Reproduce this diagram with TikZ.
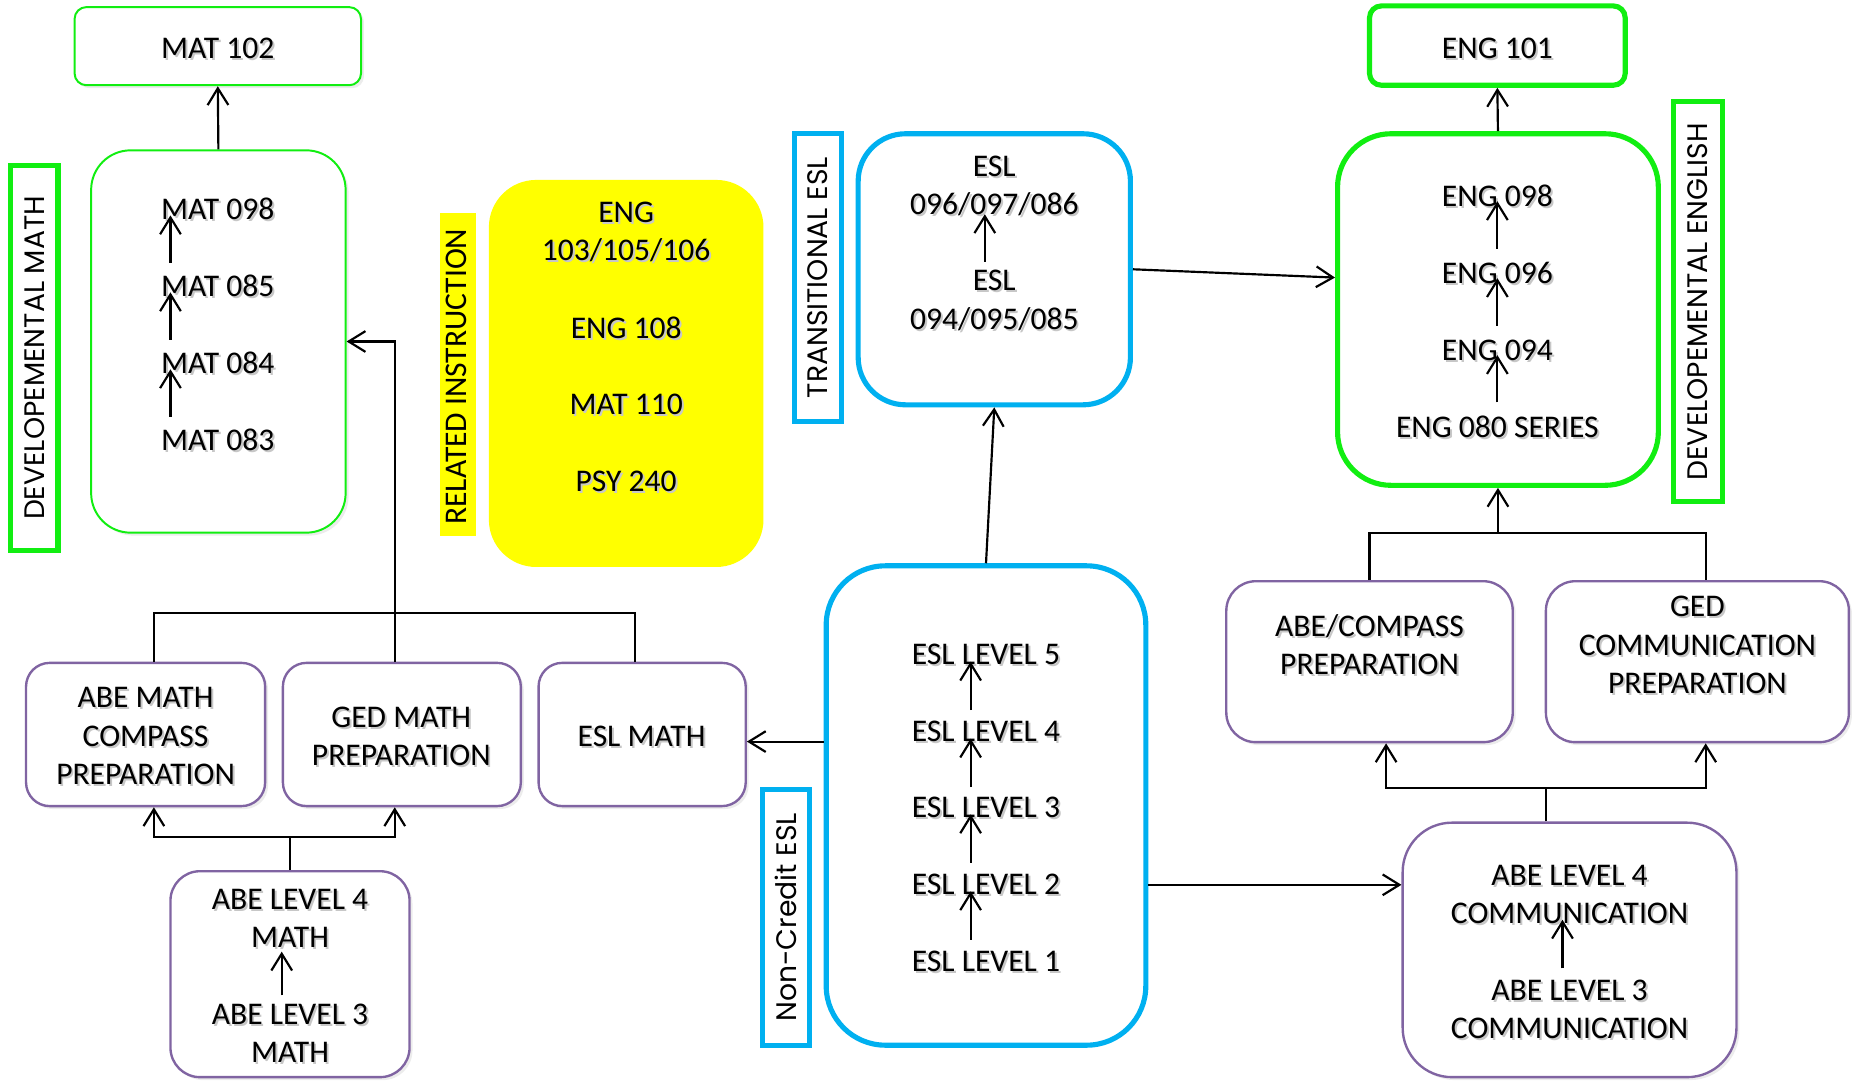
\documentclass[tikz,border=0pt]{standalone}
\usepackage{fontspec}
\setmainfont{Carlito}
\newfontfamily\labfont{Poppins}
\usetikzlibrary{arrows.meta,fit,calc,shadows}
\definecolor{gr}{HTML}{11EE11}
\definecolor{bl}{HTML}{00B0F0}
\definecolor{pu}{HTML}{8064A2}
\definecolor{ye}{HTML}{FFFF00}
\newcommand\sht[1]{\leavevmode\rlap{\kern1pt\raisebox{-1pt}{\color{black!22}#1}}#1}
\begin{document}
\begin{tikzpicture}[x=0.6pt,y=-0.6pt,
  arr/.style={line width=1.1pt,-{Straight Barb[length=8.5pt,width=10.5pt]}},
  ln/.style={line width=1.1pt},
  txt/.style={font=\fontsize{16}{19.4}\selectfont,align=center,inner sep=0pt,yshift=-1pt},
  lab/.style={font=\labfont\fontsize{14.3}{16}\selectfont,inner sep=0pt,rotate=90},
  soft/.style={drop shadow={opacity=0.15,shadow xshift=1.5pt,shadow yshift=-1.5pt}},
  gthin/.style={draw=gr,line width=1pt,fill=white,rounded corners=#1,inner sep=0pt,soft},
  gthick/.style={draw=gr,line width=2.6pt,fill=white,rounded corners=#1,inner sep=0pt},
  bthick/.style={draw=bl,line width=2.6pt,fill=white,rounded corners=#1,inner sep=0pt},
  pbox/.style={draw=pu,line width=1.2pt,fill=white,rounded corners=#1,inner sep=0pt,soft},
  glab/.style={draw=gr,line width=2.6pt,inner sep=0pt},
  blab/.style={draw=bl,line width=2.6pt,inner sep=0pt}]
\useasboundingbox (0,0) rectangle (1568,913);

% ---------- left: developmental math ----------
\node[gthin=6pt,fit={(63,6)(305,72)}] (mat102) {};
\node[txt] (t102) at (184,40) {\sht{MAT 102}};
\node[gthin=20pt,fit={(77,127)(292,450)}] (math) {};
\node[txt] (m098) at (184,176) {\sht{MAT 098}};
\node[txt] (m085) at (184,241) {\sht{MAT 085}};
\node[txt] (m084) at (184,306) {\sht{MAT 084}};
\node[txt] (m083) at (184,371) {\sht{MAT 083}};
\coordinate (ma1) at (144,222); \coordinate (mb1) at (144,182);
\coordinate (ma2) at (144,287); \coordinate (mb2) at (144,247);
\coordinate (ma3) at (144,352); \coordinate (mb3) at (144,312);
\draw[arr] (ma1) -- (mb1);
\draw[arr] (ma2) -- (mb2);
\draw[arr] (ma3) -- (mb3);
\draw[arr] (math.north) -- (mat102.south);
\node[glab,fit={(9,140)(49,465)}] (labmath) {};
\node[lab] (labmatht) at (labmath.center) {DEVELOPEMENTAL MATH};

% ---------- related instruction ----------
\node[fill=ye,inner sep=0pt,fit={(372,180)(402,453)}] (rel) {};
\node[txt,rotate=90,yshift=1pt] (relt) at (rel.center) {RELATED INSTRUCTION};
\node[fill=ye,rounded corners=24pt,inner sep=0pt,fit={(413,152)(645,479)}] (relbox) {};
\node[txt] (r1) at (529,195) {\sht{ENG}\\\sht{103/105/106}};
\node[txt] (r2) at (529,276) {\sht{ENG 108}};
\node[txt] (r3) at (529,341) {\sht{MAT 110}};
\node[txt] (r4) at (529,406) {\sht{PSY 240}};

% ---------- bottom left ----------
\node[pbox=12pt,fit={(22,560)(224,681)}] (abemc) {};
\node[txt] (abemct) at (123,621) {\sht{ABE MATH}\\\sht{COMPASS}\\\sht{PREPARATION}};
\node[pbox=12pt,fit={(239,560)(440,681)}] (gedm) {};
\node[txt] (gedmt) at (339,621) {\sht{GED MATH}\\\sht{PREPARATION}};
\node[pbox=12pt,fit={(455,560)(630,681)}] (eslm) {};
\node[txt] (eslmt) at (542,621) {\sht{ESL MATH}};
\node[pbox=15pt,fit={(144,736)(346,910)}] (abe4m) {};
\node[txt] (a4m) at (245,775) {\sht{ABE LEVEL 4}\\\sht{MATH}};
\node[txt] (a3m) at (245,872) {\sht{ABE LEVEL 3}\\\sht{MATH}};
\coordinate (aa1) at (238,841); \coordinate (ab1) at (238,804);
\draw[arr] (aa1) -- (ab1);

\draw[ln] ($(abemc.north)+(7,0)$) -- ++(0,-41) -| ($(eslm.north)+(-6,0)$);
\draw[arr] ($(gedm.north)+(-6,0)$) |- (math.east);
\draw[ln] (abe4m.north) -- ++(0,-28) coordinate (jm);
\draw[arr] (jm) -| ($(abemc.south)+(7,0)$);
\draw[arr] (jm) -| ($(gedm.south)+(-6,0)$);

% ---------- middle: ESL ----------
\node[blab,fit={(671,113)(711,356)}] (labtr) {};
\node[lab] (labtrt) at (labtr.center) {TRANSITIONAL ESL};
\node[bthick=24pt,fit={(725,113)(955,342)}] (trans) {};
\node[txt] (tr1) at (840,156) {\sht{ESL}\\\sht{096/097/086}};
\node[txt] (tr2) at (840,253) {\sht{ESL}\\\sht{094/095/085}};
\coordinate (ta1) at (832,221); \coordinate (tb1) at (832,181);
\draw[arr] (ta1) -- (tb1);

\node[blab,fit={(644,667)(684,883)}] (labnc) {};
\node[lab] (labnct) at (labnc.center) {Non-Credit ESL};
\node[bthick=30pt,fit={(698,478)(968,883)}] (nc) {};
\node[txt] (e5) at (833,552) {\sht{ESL LEVEL 5}};
\node[txt] (e4) at (833,617) {\sht{ESL LEVEL 4}};
\node[txt] (e3) at (833,681) {\sht{ESL LEVEL 3}};
\node[txt] (e2) at (833,746) {\sht{ESL LEVEL 2}};
\node[txt] (e1) at (833,811) {\sht{ESL LEVEL 1}};
\coordinate (ea1) at (820,600); \coordinate (eb1) at (820,559);
\coordinate (ea2) at (820,665); \coordinate (eb2) at (820,624);
\coordinate (ea3) at (820,729); \coordinate (eb3) at (820,688);
\coordinate (ea4) at (820,794); \coordinate (eb4) at (820,753);
\draw[arr] (ea1) -- (eb1);
\draw[arr] (ea2) -- (eb2);
\draw[arr] (ea3) -- (eb3);
\draw[arr] (ea4) -- (eb4);

\draw[arr] (nc.north) -- (trans.south);

% ---------- right: developmental english ----------
\node[gthick=6pt,fit={(1157,5)(1373,72)}] (eng101) {};
\node[txt] (t101) at (1265,40) {\sht{ENG 101}};
\node[gthick=27pt,fit={(1130,113)(1401,410)}] (eng) {};
\node[txt] (g098) at (1265,165) {\sht{ENG 098}};
\node[txt] (g096) at (1265,230) {\sht{ENG 096}};
\node[txt] (g094) at (1265,295) {\sht{ENG 094}};
\node[txt] (g080) at (1265,360) {\sht{ENG 080 SERIES}};
\coordinate (ga1) at (1265,210); \coordinate (gb1) at (1265,170);
\coordinate (ga2) at (1265,275); \coordinate (gb2) at (1265,235);
\coordinate (ga3) at (1265,340); \coordinate (gb3) at (1265,300);
\draw[arr] (ga1) -- (gb1);
\draw[arr] (ga2) -- (gb2);
\draw[arr] (ga3) -- (gb3);
\draw[arr] (eng.north) -- (eng101.south);
\node[glab,fit={(1414,86)(1455,424)}] (labeng) {};
\node[lab] (labengt) at (labeng.center) {DEVELOPEMENTAL ENGLISH};

\coordinate (engin) at ($(eng.west)+(0,-27)$);
\draw[arr] (trans.east) -- (engin);

\node[pbox=15pt,fit={(1036,491)(1278,627)}] (abecp) {};
\node[txt] (abecpt) at (1157,544) {\sht{ABE/COMPASS}\\\sht{PREPARATION}};
\node[pbox=15pt,fit={(1306,491)(1562,627)}] (gedc) {};
\node[txt] (gedct) at (1434,544) {\sht{GED}\\\sht{COMMUNICATION}\\\sht{PREPARATION}};
\node[pbox=25pt,fit={(1185,695)(1467,910)}] (abec) {};
\node[txt] (ac4) at (1326,755) {\sht{ABE LEVEL 4}\\\sht{COMMUNICATION}};
\node[txt] (ac3) at (1326,852) {\sht{ABE LEVEL 3}\\\sht{COMMUNICATION}};
\coordinate (ca1) at (1320,818); \coordinate (cb1) at (1320,777);
\draw[arr] (ca1) -- (cb1);

\draw[ln] (abecp.north) -- ++(0,-40) coordinate (r1) -| ($(gedc.north)+(7,0)$);
\draw[arr] (r1 -| eng.south) -- (eng.south);
\draw[ln] ($(abec.north)+(-20,0)$) -- ++(0,-28) coordinate (r2);
\draw[arr] (r2) -| ($(abecp.south)+(14,0)$);
\draw[arr] (r2) -| ($(gedc.south)+(7,0)$);

% ---------- cross connectors ----------
\coordinate (em) at ($(eslm.east)+(0,6)$);
\draw[arr] (nc.west |- em) -- (em);
\coordinate (acin) at ($(abec.west)+(0,-55)$);
\draw[arr] (nc.east |- acin) -- (acin);
\end{tikzpicture}
\end{document}
